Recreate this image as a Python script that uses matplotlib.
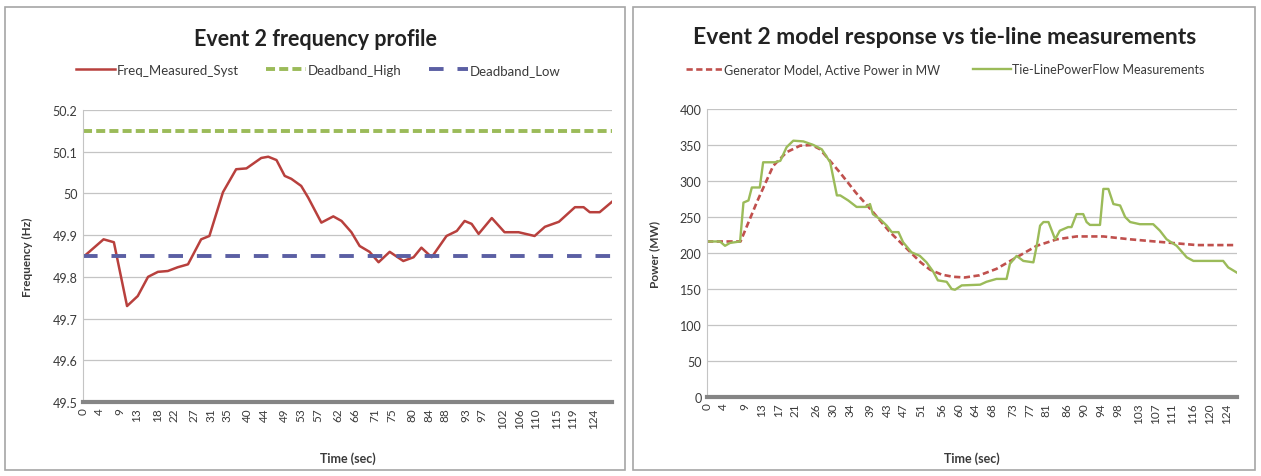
import matplotlib

matplotlib.use("Agg")
import matplotlib.pyplot as plt
from matplotlib.lines import Line2D
from matplotlib.patches import Rectangle

plt.rcParams["font.family"] = ["Lato", "DejaVu Sans"]
plt.rcParams["lines.scale_dashes"] = False

# --- left chart: frequency profile ---
freq_time = [0, 5, 7.5, 10.7, 13.3, 15.8, 18.2, 20.6, 23, 25.5, 28.7, 30.7, 34, 37.2, 39.7,
             43.3, 45, 47, 49, 50.6, 53, 54.7, 57.9, 60.8, 62.8, 65.2, 67.2, 69.6, 71.8, 74.5,
             77.8, 80.3, 82.2, 84.7, 88.3, 90.8, 92.7, 94.4, 96.1, 99.3, 102.4, 105.8, 109.7,
             112.2, 115.6, 119.5, 121.6, 123.1, 125.5, 128.5]
freq_measured = [49.847, 49.89, 49.883, 49.73, 49.754, 49.80, 49.812, 49.814, 49.823, 49.83,
                 49.89, 49.898, 50.003, 50.058, 50.06, 50.085, 50.088, 50.08, 50.042, 50.035,
                 50.018, 49.99, 49.93, 49.945, 49.934, 49.907, 49.874, 49.86, 49.835, 49.86,
                 49.838, 49.847, 49.87, 49.847, 49.898, 49.91, 49.934, 49.927, 49.903, 49.941,
                 49.907, 49.907, 49.898, 49.92, 49.932, 49.967, 49.967, 49.955, 49.955, 49.98]
deadband_high = 50.15
deadband_low = 49.85
freq_xlabels = [0, 4, 9, 13, 18, 22, 27, 31, 35, 40, 44, 49, 53, 57, 62, 66, 71, 75, 80, 84,
                88, 93, 97, 102, 106, 110, 115, 119, 124]
freq_yticks = [49.5, 49.6, 49.7, 49.8, 49.9, 50.0, 50.1, 50.2]

# --- right chart: model vs tie-line ---
model_time = [0, 8, 12, 15.8, 19, 22.2, 25, 27, 31.7, 35.5, 39.6, 43.5, 47.7, 51, 53.2, 56,
              58.7, 61.5, 65, 69.1, 73.9, 78.7, 83.5, 88.2, 94.6, 101, 108.9, 116.9, 126.4]
model_power = [216, 216, 272, 321, 340, 349, 350, 344, 312, 284, 257, 230, 206, 187, 177, 170,
               167, 166, 169, 178, 194, 210, 219, 223, 223, 219, 215, 211, 211]
meas_time = [0, 3.1, 4.3, 5.5, 7.9, 8.7, 9.9, 10.7, 12.6, 13.4, 16.2, 17.5, 19, 20.6, 23, 25.4,
             27.4, 29.4, 31, 31.8, 33.7, 35.7, 38, 38.9, 39.6, 41.3, 42.9, 44.1, 45.7, 46.8,
             48.8, 50.8, 52.4, 54, 55.1, 57.2, 58.4, 59.2, 60.8, 65.2, 66.7, 69.1, 71.5, 72.3,
             73.9, 75.5, 77.9, 78.7, 79.5, 80.3, 81.5, 83.1, 84.2, 86.2, 87, 88.2, 89.8, 90.6,
             91.4, 93.8, 94.6, 95.8, 97, 98.6, 99.8, 101, 103.3, 106.5, 108.1, 109.7, 112.1,
             114.5, 116.1, 123.2, 124.4, 126.4]
meas_power = [216, 216, 210, 214, 216, 270, 273, 291, 291, 326, 326, 328, 347, 356, 355, 350,
              344, 326, 280, 280, 273, 264, 264, 268, 254, 247, 238, 229, 229, 215, 201, 196,
              187, 174, 162, 160, 150, 149, 155, 156, 160, 164, 164, 185, 196, 189, 187, 210,
              238, 243, 243, 219, 231, 236, 236, 254, 254, 243, 239, 239, 289, 289, 268, 266,
              250, 243, 240, 240, 231, 219, 210, 194, 189, 189, 180, 173]
power_xlabels = [0, 4, 9, 13, 17, 21, 26, 30, 34, 39, 43, 47, 51, 56, 60, 64, 68, 73, 77, 81,
                 86, 90, 94, 98, 103, 107, 111, 116, 120, 124]
power_yticks = [0, 50, 100, 150, 200, 250, 300, 350, 400]

RED = "#b8403d"
GREEN = "#9bbb59"
BLUE = "#5b5fa3"
TEXT = "#3a3a3a"
W, H = 1261, 477


def style_axis(axis, xlabels, xmax, yticks, ylabels, ylabel):
    axis.set_xlim(0, xmax)
    axis.set_ylim(yticks[0], yticks[-1])
    axis.set_xticks(xlabels)
    axis.set_xticklabels([str(v) for v in xlabels], rotation=90, fontsize=8.5, color=TEXT)
    axis.set_yticks(yticks)
    axis.set_yticklabels(ylabels, fontsize=9, color=TEXT)
    axis.tick_params(length=0, pad=4)
    axis.grid(axis="y", color="#c4c4c4", linewidth=0.9)
    axis.set_axisbelow(True)
    for side in ("top", "right"):
        axis.spines[side].set_visible(False)
    axis.spines["left"].set_color("#c4c4c4")
    axis.spines["left"].set_linewidth(0.8)
    axis.spines["bottom"].set_color("#858585")
    axis.spines["bottom"].set_linewidth(3)
    axis.set_ylabel(ylabel, fontsize=8.5, fontweight="bold", color=TEXT)
    axis.set_xlabel("Time (sec)", fontsize=9, fontweight="bold", color=TEXT)


def panel_border(fig, x0, x1, y0, y1):
    fig.patches.append(Rectangle((x0 / W, 1 - y1 / H), (x1 - x0) / W, (y1 - y0) / H,
                                 transform=fig.transFigure, fill=False,
                                 edgecolor="#a6a6a6", linewidth=1.2))


fig = plt.figure(figsize=(W / 100, H / 100), dpi=100)
panel_border(fig, 5, 625, 8, 471)
panel_border(fig, 633, 1255, 8, 471)

# left chart
ax1 = fig.add_axes([83 / W, 1 - 403 / H, (612 - 83) / W, (403 - 111) / H])
ax1.plot(freq_time, freq_measured, color=RED, linewidth=1.8)
ax1.axhline(deadband_high, color=GREEN, linewidth=2.8, dashes=(6.5, 3))
ax1.axhline(deadband_low, color=BLUE, linewidth=2.8, dashes=(10.5, 10))
style_axis(ax1, freq_xlabels, 128.5, freq_yticks,
           ["49.5", "49.6", "49.7", "49.8", "49.9", "50", "50.1", "50.2"], "Frequency (Hz)")
ax1.yaxis.set_label_coords(-0.094, 0.5)
ax1.xaxis.set_label_coords(0.5, -0.17)
fig.text(315 / W, 1 - 40 / H, "Event 2 frequency profile", ha="center", va="center",
         fontsize=15.5, fontweight="bold", color="#222222")
fig.legend(handles=[Line2D([], [], color=RED, linewidth=1.8),
                    Line2D([], [], color=GREEN, linewidth=2.8, dashes=(6.5, 3)),
                    Line2D([], [], color=BLUE, linewidth=2.8, dashes=(10.5, 10))],
           labels=["Freq_Measured_Syst", "Deadband_High", "Deadband_Low"],
           loc="center", bbox_to_anchor=(318 / W, 1 - 71 / H), ncol=3, frameon=False,
           fontsize=9.5, handlelength=3, columnspacing=2.1, handletextpad=0.1,
           labelcolor=TEXT)

# right chart
ax2 = fig.add_axes([707 / W, 1 - 398 / H, (1237 - 707) / W, (398 - 110) / H])
ax2.plot(model_time, model_power, color="#c0504d", linewidth=1.9, dashes=(4.5, 2.5))
ax2.plot(meas_time, meas_power, color=GREEN, linewidth=1.7)
style_axis(ax2, power_xlabels, 126.5, power_yticks,
           [str(v) for v in power_yticks], "Power (MW)")
ax2.yaxis.set_label_coords(-0.089, 0.5)
ax2.xaxis.set_label_coords(0.5, -0.19)
fig.text(945 / W, 1 - 38 / H, "Event 2 model response vs tie-line measurements",
         ha="center", va="center", fontsize=16.5, fontweight="bold", color="#222222")
fig.legend(handles=[Line2D([], [], color="#c0504d", linewidth=1.9, dashes=(4.5, 2.5)),
                    Line2D([], [], color=GREEN, linewidth=1.7)],
           labels=["Generator Model, Active Power in MW", "Tie-LinePowerFlow Measurements"],
           loc="center", bbox_to_anchor=(945 / W, 1 - 70 / H), ncol=2, frameon=False,
           fontsize=9, handlelength=3, columnspacing=2.6, handletextpad=0.1,
           labelcolor=TEXT)

fig.savefig("out.png", dpi=100)
